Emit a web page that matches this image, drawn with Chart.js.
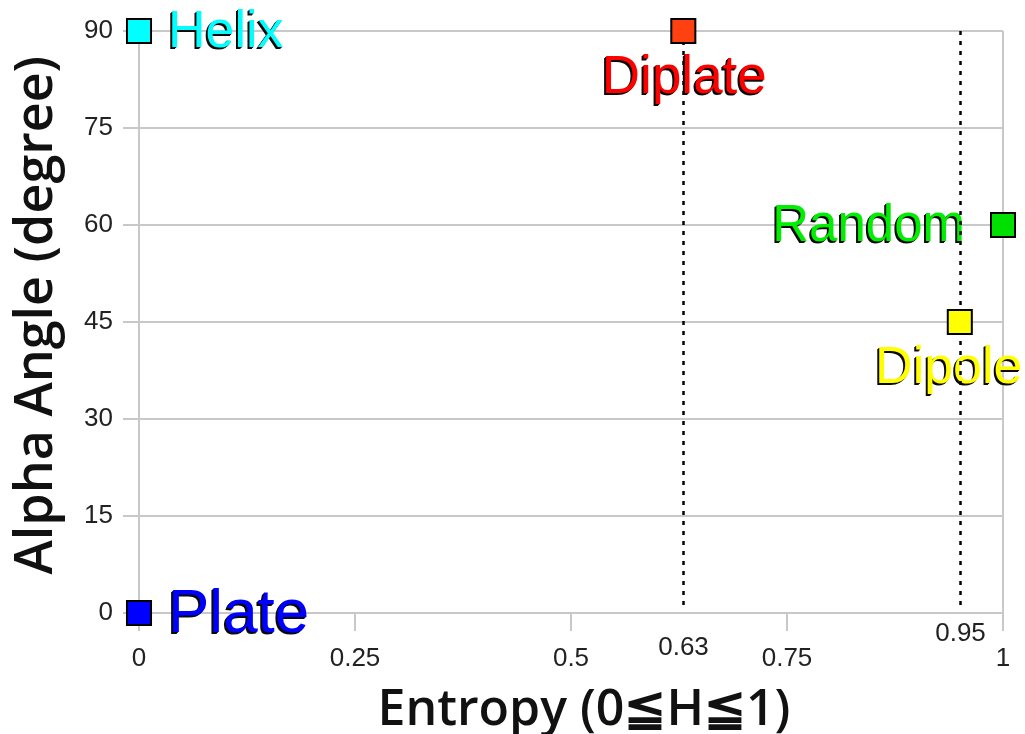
<!DOCTYPE html>
<html>
<head>
<meta charset="utf-8">
<script src="https://cdn.jsdelivr.net/npm/chart.js@4/dist/chart.umd.min.js"></script>
<style>
  html, body { margin: 0; padding: 0; background: #fff; }
  #wrap { width: 1025px; height: 734px; position: relative; }
</style>
</head>
<body>
<div id="wrap"><canvas id="chart"></canvas></div>
<script>
// Structural states on the entropy / alpha-angle plane
const stateNames = ['Helix', 'Plate', 'Diplate', 'Random', 'Dipole'];
const entropy = [0, 0, 0.63, 1, 0.95];
const alphaAngle = [90, 0, 90, 60, 45];

// Axis ticks
const entropyTicks = [0, 0.25, 0.5, 0.75, 1];
const markedEntropy = [0.63, 0.95];
const angleTicks = [0, 15, 30, 45, 60, 75, 90];

// Styling
const markerColors = ['#00ffff', '#0000ff', '#ff4010', '#00e000', '#ffff00'];
const textColors = ['#00ffff', '#0000ff', '#ff0000', '#00ee00', '#ffff00'];
const labelPlacement = [
  { align: 'left',   dx: 29,  dy: 16, size: 52 },
  { align: 'left',   dx: 29,  dy: 19, size: 62 },
  { align: 'center', dx: 1,   dy: 62, size: 53 },
  { align: 'right',  dx: -38, dy: 16, size: 51 },
  { align: 'center', dx: -11, dy: 61, size: 52 }
];
const markedLabelDrop = [42, 28];
const tickFont = { family: 'Liberation Sans', size: 26 };
const gridGray = '#c8c8c8';

// State names next to each marker, with a dark drop shadow
const stateLabels = {
  id: 'stateLabels',
  beforeDatasetsDraw(chart) {
    const ctx = chart.ctx;
    const meta = chart.getDatasetMeta(0);
    ctx.save();
    ctx.textBaseline = 'alphabetic';
    meta.data.forEach((pt, i) => {
      const p = labelPlacement[i];
      ctx.font = p.size + 'px "Liberation Sans", Arial, sans-serif';
      ctx.textAlign = p.align;
      const x = pt.x + p.dx, y = pt.y + p.dy;
      ctx.fillStyle = 'rgba(10,10,10,1)';
      ctx.fillText(stateNames[i], x - 2, y + 2);
      ctx.fillText(stateNames[i], x - 1, y + 1);
      ctx.fillStyle = textColors[i];
      ctx.fillText(stateNames[i], x, y);
    });
    ctx.restore();
  }
};

// Dotted reference lines at the marked entropy values, with their tick labels
const markedLines = {
  id: 'markedLines',
  beforeDatasetsDraw(chart) {
    const { ctx, chartArea, scales } = chart;
    ctx.save();
    markedEntropy.forEach((v, i) => {
      const x = Math.round(scales.x.getPixelForValue(v)) + 0.5;
      ctx.strokeStyle = '#000';
      ctx.lineWidth = 2.5;
      ctx.setLineDash([4, 6]);
      ctx.beginPath();
      ctx.moveTo(x, chartArea.top);
      ctx.lineTo(x, chartArea.bottom - 2);
      ctx.stroke();
      ctx.setLineDash([]);
      ctx.font = tickFont.size + 'px "Liberation Sans", Arial, sans-serif';
      ctx.fillStyle = '#222';
      ctx.textAlign = 'center';
      ctx.textBaseline = 'alphabetic';
      ctx.fillText(String(v), x, chartArea.bottom + markedLabelDrop[i]);
    });
    ctx.restore();
  }
};

new Chart(document.getElementById('chart'), {
  type: 'scatter',
  data: {
    datasets: [{
      data: entropy.map((x, i) => ({ x: x, y: alphaAngle[i] })),
      pointStyle: 'rect',
      pointRadius: 17,
      pointHoverRadius: 17,
      pointBackgroundColor: markerColors,
      pointBorderColor: '#000',
      pointBorderWidth: 2,
      clip: false
    }]
  },
  options: {
    responsive: true,
    maintainAspectRatio: false,
    animation: false,
    events: [],
    layout: { padding: { top: 31, right: 22, bottom: 0, left: 0 } },
    plugins: { legend: { display: false }, tooltip: { enabled: false } },
    scales: {
      x: {
        type: 'linear',
        min: 0,
        max: 1,
        afterBuildTicks: s => { s.ticks = entropyTicks.map(v => ({ value: v })); },
        afterFit: s => { s.height = 121; },
        grid: {
          color: c => (c.tick && (c.tick.value === 0 || c.tick.value === 1)) ? gridGray : 'rgba(0,0,0,0)',
          tickColor: gridGray,
          lineWidth: 2,
          tickLength: 18
        },
        border: { display: true, color: gridGray, width: 2 },
        ticks: {
          font: tickFont,
          color: '#222',
          padding: 12,
          maxRotation: 0,
          autoSkip: false,
          callback: v => String(v)
        },
        title: {
          display: true,
          text: '  Entropy (0≦H≦1)',
          color: '#111',
          font: { family: 'Open Sans', size: 50, weight: '600', lineHeight: 0.9 },
          padding: { top: 0, bottom: 1 }
        }
      },
      y: {
        type: 'linear',
        min: 0,
        max: 90,
        afterBuildTicks: s => { s.ticks = angleTicks.map(v => ({ value: v })); },
        afterFit: s => { s.width = 139; },
        grid: { color: gridGray, lineWidth: 2, tickLength: 16 },
        border: { display: true, color: gridGray, width: 2 },
        ticks: { font: tickFont, color: '#222', padding: 10 },
        title: {
          display: true,
          text: ' Alpha Angle (degree)',
          color: '#111',
          font: { family: 'Open Sans', size: 52, weight: '600', lineHeight: 1 },
          padding: { top: 11, bottom: 0 }
        }
      }
    }
  },
  plugins: [stateLabels, markedLines]
});
</script>
</body>
</html>
